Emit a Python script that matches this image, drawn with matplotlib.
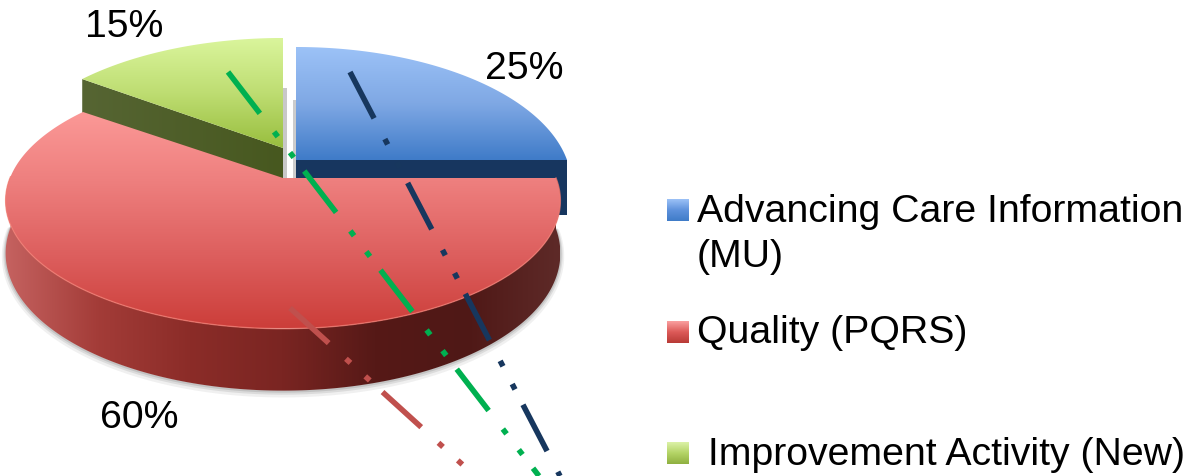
import numpy as np
import matplotlib
matplotlib.use('Agg')
import matplotlib.pyplot as plt
from matplotlib.colors import LinearSegmentedColormap
from matplotlib.patches import Polygon

plt.rcParams['font.family'] = ['Liberation Sans', 'DejaVu Sans']

# Chart data
shares = [25, 60, 15]
pct_labels = ['25%', '60%', '15%']
legend_labels = ['Advancing Care Information\n(MU)', 'Quality (PQRS)', ' Improvement Activity (New)']

# Top surface colours, top to bottom
blue_top = ['#9CC2F7', '#7FA8E4', '#3F7BC8']
red_top = ['#FC9A98', '#EE7F7E', '#DD5F5E', '#CC3E3A']
green_top = ['#DAF59C', '#BEDD72', '#98BE3E']

# Slice geometry: centre x, centre y, radius x, radius y, wall depth
PERSP = 0.177
blue_geo = (296, 160, 271, 133, 55)
red_geo = (283, 178, 273, 124, 51)
green_geo = (283, 148, 274, 129.5, 51)

# Leader lines, start and end
line_navy = ((350, 72), (560, 476))
line_green = ((228, 72), (539, 476))
line_red = ((290, 308), (475, 476))

FONT_SIZE = 28.3


def project(geo, angles, depth=0.0):
    cx, cy, rx, ry, d = geo
    u, v = np.cos(angles), np.sin(angles)
    scale = 1 / (1 + PERSP * v)
    return cx + rx * u * scale, cy - ry * v * scale + depth * d * scale


def gradient_fill(ax, verts, colors, extent, horizontal=False, zorder=1):
    cmap = LinearSegmentedColormap.from_list('g', colors)
    g = np.linspace(0, 1, 256)
    g = g.reshape(1, -1) if horizontal else g.reshape(-1, 1)
    im = ax.imshow(g, cmap=cmap, extent=extent, aspect='auto', origin='upper', zorder=zorder,
                   interpolation='bilinear')
    patch = Polygon(verts, closed=True, transform=ax.transData, fc='none', ec='none')
    ax.add_patch(patch)
    im.set_clip_path(patch)


fig = plt.figure(figsize=(11.94, 4.76), dpi=100)
ax = fig.add_axes([0, 0, 1, 1])
ax.set_xlim(0, 1194)
ax.set_ylim(476, 0)
ax.axis('off')
ax.set_autoscale_on(False)

# slice angles come from the shares, clockwise from 12 o'clock
edges = np.pi / 2 - 2 * np.pi * np.cumsum([0] + shares) / sum(shares)
a_blue = np.linspace(edges[0], edges[1], 120)
a_red = np.linspace(edges[1], edges[2], 300)
a_green = np.linspace(edges[2], edges[3], 80)

# gap between the slices
ax.fill_between([283, 287], 88, 178, color='#C8C8C8', lw=0, zorder=1)
ax.fill_between([293, 296], 100, 178, color='#CCCCCC', lw=0, zorder=1)

# green wall and top
gx0, gy0 = project(green_geo, a_green[:1])
tip = (gx0[0], gy0[0])
wall = [tip, (green_geo[0], green_geo[1]), (green_geo[0], green_geo[1] + 51), (tip[0], tip[1] + 51)]
gradient_fill(ax, wall, ['#566533', '#47581F'], (tip[0], green_geo[0], 200, 60), horizontal=True, zorder=2)
x, y = project(green_geo, a_green)
verts = np.column_stack([np.r_[x, green_geo[0]], np.r_[y, green_geo[1]]])
gradient_fill(ax, verts, green_top, (60, 300, green_geo[1], 38), zorder=3)

# blue wall and top
bx, by = project(blue_geo, a_blue)
wall = [(296, 160), (bx[-1], 160), (bx[-1], 215), (296, 215)]
ax.add_patch(Polygon(wall, closed=True, fc='#17365F', ec='none', zorder=2))
verts = np.column_stack([np.r_[bx, 296], np.r_[by, 160]])
gradient_fill(ax, verts, blue_top, (290, 575, 160, 47), zorder=3)

# red wall with soft shadow
rx, ry = project(red_geo, a_red)
low = a_red[(np.sin(a_red) <= 0.02)]
lx, ly = project(red_geo, low)
lx2, ly2 = project(red_geo, low, depth=1.0)
for off, al in [(5, 0.10), (3, 0.16), (1.5, 0.22)]:
    ax.plot(lx2, ly2 + off * 0.6, color='#707070', lw=off * 1.1, alpha=al, zorder=3.5, solid_capstyle='round')
wall = np.column_stack([np.r_[lx, lx2[::-1]], np.r_[ly, ly2[::-1]]])
gradient_fill(ax, wall, ['#C56260', '#A33C38', '#8B2C28', '#7A2522', '#561917', '#4F1816', '#5E2A28'],
              (5, 560, 400, 170), horizontal=True, zorder=4)

# red top
verts = np.column_stack([np.r_[rx, red_geo[0]], np.r_[ry, red_geo[1]]])
gradient_fill(ax, verts, red_top, (0, 570, 328, 108), zorder=5)
ax.plot(lx, ly, color='#F27C72', lw=1.0, alpha=0.7, zorder=5.5)

# leader lines
dash = (0, (9.4, 4.2, 1.1, 3.6, 1.1, 3.1))
for (p0, p1), col in [(line_red, '#C0504D'), (line_green, '#00B050'), (line_navy, '#17375E')]:
    ax.plot([p0[0], p1[0]], [p0[1], p1[1]], color=col, lw=4.0, ls=dash, dash_capstyle='butt', zorder=7)

# percent labels
ax.text(485, 79, pct_labels[0], fontsize=FONT_SIZE, color='black', ha='left', va='baseline', zorder=8)
ax.text(100, 428, pct_labels[1], fontsize=FONT_SIZE, color='black', ha='left', va='baseline', zorder=8)
ax.text(85, 37, pct_labels[2], fontsize=FONT_SIZE, color='black', ha='left', va='baseline', zorder=8)

# legend
swatches = [
    (199, ['#9CC2F7', '#5E92DC', '#3F7BC8']),
    (321, ['#FAA0A0', '#DC5A58', '#B83A36']),
    (442, ['#DCF2A8', '#B4D466', '#8FB040']),
]
for (top, cols), lab, base in zip(swatches, legend_labels, [222, 343, 465]):
    sq = [(667, top), (689, top), (689, top + 22), (667, top + 22)]
    gradient_fill(ax, sq, cols, (667, 689, top + 22, top), zorder=6)
    first = lab.split('\n')
    ax.text(697, base, first[0], fontsize=FONT_SIZE, color='black', ha='left', va='baseline', zorder=8)
    if len(first) > 1:
        ax.text(697, base + 45, first[1], fontsize=FONT_SIZE, color='black', ha='left', va='baseline', zorder=8)

fig.savefig('out.png', dpi=100)
